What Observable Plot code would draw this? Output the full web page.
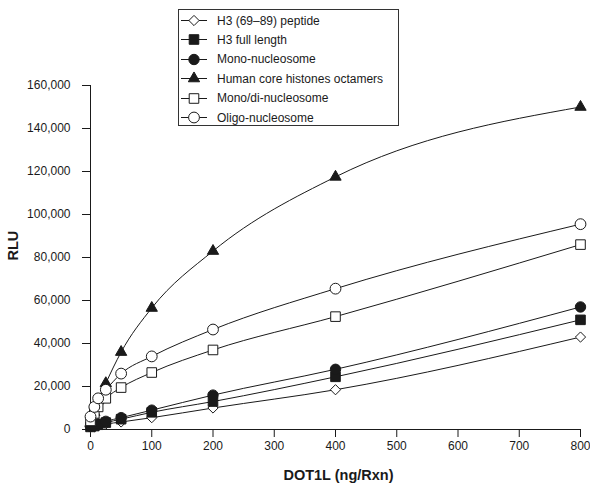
<!DOCTYPE html>
<html>
<head>
<meta charset="utf-8">
<script src="https://cdn.jsdelivr.net/npm/d3@7"></script>
<script src="https://cdn.jsdelivr.net/npm/@observablehq/plot@0.6"></script>
<style>
  html, body { margin: 0; padding: 0; background: #fff; }
  #wrap { position: relative; width: 590px; height: 486px; font-family: "Liberation Sans", Arial, sans-serif; }
  #legend { position: absolute; left: 178px; top: 9px; width: 219px; height: 115px; border: 1px solid #333; background: #fff; box-sizing: content-box; }
  .row { position: absolute; left: 0; height: 19px; display: flex; align-items: center; font-size: 12px; color: #1a1a1a; }
  .row svg { display: block; margin-left: 1px; margin-right: 9px; }
</style>
</head>
<body>
<div id="wrap"></div>
<script>
// ---- data ----
const doses = [0, 6.25, 12.5, 25, 50, 100, 200, 400, 800];
const seriesNames = [
  "H3 (69\u201389) peptide",
  "H3 full length",
  "Mono-nucleosome",
  "Human core histones octamers",
  "Mono/di-nucleosome",
  "Oligo-nucleosome"
];
const h3Peptide    = [1000, 1300, 1800, 2500, 3500, 5500, 10000, 18500, 43000];
const h3FullLength = [1200, 1600, 2200, 3200, 4800, 8000, 13000, 24500, 51000];
const monoNuc      = [1500, 2000, 2600, 3800, 5500, 9000, 16000, 28000, 57000];
const octamers     = [3000, 8000, 13500, 21500, 36000, 56500, 83000, 117500, 150000];
const monoDiNuc    = [4000, 7500, 10500, 14500, 19500, 26500, 37000, 52500, 86000];
const oligoNuc     = [6000, 10500, 14500, 18500, 26000, 34000, 46500, 65500, 95500];
const seriesValues = [h3Peptide, h3FullLength, monoNuc, octamers, monoDiNuc, oligoNuc];
const xTicks = [0, 100, 200, 300, 400, 500, 600, 700, 800];
const yTicks = [0, 20000, 40000, 60000, 80000, 100000, 120000, 140000, 160000];

// ---- styles (not data) ----
const INK = "#1a1a1a";
const styles = [
  {symbol: "diamond2", fill: "white", r: 4.6},
  {symbol: "square",   fill: INK,     r: 5.4},
  {symbol: "circle",   fill: INK,     r: 5.2},
  {symbol: "triangle", fill: INK,     r: 4.2},
  {symbol: "square",   fill: "white", r: 5.4},
  {symbol: "circle",   fill: "white", r: 5.4}
];
const d3Symbols = {diamond2: d3.symbolDiamond2, square: d3.symbolSquare, circle: d3.symbolCircle, triangle: d3.symbolTriangle};

const rows = [];
seriesNames.forEach((s, i) => doses.forEach((d, j) => rows.push({series: s, idx: i, dose: d, rlu: seriesValues[i][j]})));

const dotMarks = seriesNames.map((s, i) => Plot.dot(rows.filter(r => r.idx === i), {
  x: "dose", y: "rlu", symbol: () => styles[i].symbol, r: styles[i].r,
  fill: styles[i].fill, stroke: INK, strokeWidth: 1
}));

const chart = Plot.plot({
  width: 590, height: 486,
  marginLeft: 90, marginRight: 10, marginTop: 85, marginBottom: 57,
  style: {fontFamily: "'Liberation Sans', Arial, sans-serif", fontSize: "12px", color: INK, background: "white"},
  x: {domain: [0, 800]},
  y: {domain: [0, 160000]},
  marks: [
    Plot.ruleY([0], {x1: -13, x2: 800, stroke: INK, strokeWidth: 1}),
    Plot.ruleX([0], {y1: 0, y2: 160000, stroke: INK, strokeWidth: 1}),
    Plot.axisX({ticks: xTicks, tickSize: 8, tickPadding: 4, label: null, stroke: INK, fill: INK, fontSize: 12}),
    Plot.axisY({ticks: yTicks, tickSize: 8, tickPadding: 12, tickFormat: d3.format(","), label: null, stroke: INK, fill: INK, fontSize: 12}),
    Plot.line(rows, {x: "dose", y: "rlu", z: "series", curve: "monotone-x", stroke: INK, strokeWidth: 1}),
    ...dotMarks,
    Plot.text(["DOT1L (ng/Rxn)"], {frameAnchor: "bottom", lineAnchor: "middle", dx: 3, dy: 46, fontWeight: "bold", fontSize: 14.5, fill: INK}),
    Plot.text(["RLU"], {frameAnchor: "left", dx: -77, dy: 3, rotate: -90, fontWeight: "bold", fontSize: 14.5, fill: INK})
  ]
});

const wrap = document.getElementById("wrap");
wrap.appendChild(chart);

// legend overlay
const legend = document.createElement("div");
legend.id = "legend";
seriesNames.forEach((s, i) => {
  const row = document.createElement("div");
  row.className = "row";
  row.style.top = (1 + i * 19.4) + "px";
  const svg = d3.create("svg").attr("width", 28).attr("height", 19);
  svg.append("line").attr("x1", 1).attr("x2", 27).attr("y1", 9.5).attr("y2", 9.5).attr("stroke", INK);
  const st = styles[i];
  svg.append("path")
    .attr("transform", "translate(14,9.5)")
    .attr("d", d3.symbol(d3Symbols[st.symbol], st.r * st.r * Math.PI)())
    .attr("fill", st.fill).attr("stroke", INK);
  row.appendChild(svg.node());
  const span = document.createElement("span");
  span.textContent = s;
  row.appendChild(span);
  legend.appendChild(row);
});
wrap.appendChild(legend);
</script>
</body>
</html>
